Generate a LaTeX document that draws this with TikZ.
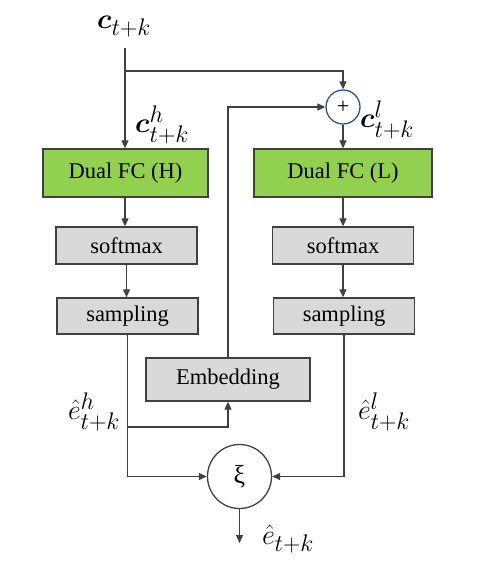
\RequirePackage{fix-cm}
\documentclass[tikz,border=0pt]{standalone}
\usepackage{fontspec}
\setmainfont{Liberation Serif}
\usepackage{amsmath}
\usepackage{bm}
\usetikzlibrary{arrows.meta,calc}
\definecolor{fcgreen}{RGB}{146,208,80}
\definecolor{boxgray}{RGB}{217,217,217}
\definecolor{edgegray}{RGB}{64,64,64}
\definecolor{plusblue}{RGB}{47,85,151}
\newcommand{\lsub}[1]{\mbox{\fontsize{24}{26}\selectfont$#1$}}
\begin{document}
\begin{tikzpicture}[x=1pt,y=-1pt,
  fcbox/.style={draw=edgegray,line width=1.3pt,fill=fcgreen,minimum height=48pt,inner sep=0pt,font=\fontsize{22.5}{26}\selectfont},
  graybox/.style={draw=edgegray,line width=1.3pt,fill=boxgray,minimum width=141pt,inner sep=0pt,font=\fontsize{22.5}{26}\selectfont},
  conn/.style={draw=edgegray,line width=1.2pt,-{Triangle[length=8pt,width=7pt]}},
  lbl/.style={font=\fontsize{28}{32}\selectfont,inner sep=0pt}]
\useasboundingbox (0,0) rectangle (480,565);

\node[lbl] (ctop) at (124,27) {$\bm{c}_{\lsub{t{+}k}}$};
\coordinate (cin) at (125,48);
\coordinate (br) at (125,71);

\node[circle,draw=plusblue,line width=1.3pt,fill=white,minimum size=34pt,inner sep=0pt,font=\fontsize{22}{26}\selectfont] (plus) at (343,107) {+};

\node[fcbox,minimum width=165pt] (dualH) at (125.5,173) {Dual FC (H)};
\node[fcbox,minimum width=178pt] (dualL) at (343,173) {Dual FC (L)};

\node[graybox,minimum height=37pt] (softH) at (126.5,245.5) {softmax};
\node[graybox,minimum height=37pt] (softL) at (343,245.5) {softmax};

\node[graybox,minimum height=36pt] (sampH) at (127.5,316) {sampling};
\node[graybox,minimum height=36pt] (sampL) at (344,316) {sampling};

\node[graybox,minimum width=164pt,minimum height=43pt] (emb) at (228,379.5) {Embedding};

\node[circle,draw=edgegray,line width=1.3pt,fill=white,minimum size=64pt,inner sep=0pt,font=\fontsize{26}{30}\selectfont] (xi) at (239.5,476.5) {ξ};
\coordinate (out) at (239.5,543);
\coordinate (eb) at (127.5,427);

% labels
\node[lbl] (ch) at (162,125) {$\bm{c}^{\lsub{h}}_{\lsub{t{+}k}}$};
\node[lbl] (cl) at (387,120) {$\bm{c}^{\lsub{l}}_{\lsub{t{+}k}}$};
\node[lbl] (eh) at (94,412) {$\hat{e}^{\lsub{h}}_{\lsub{t{+}k}}$};
\node[lbl] (el) at (384,412) {$\hat{e}^{\lsub{l}}_{\lsub{t{+}k}}$};
\node[lbl] (eout) at (288,539) {$\hat{e}_{\lsub{t{+}k}}$};

% connectors
\draw[conn] (cin) -- (cin |- dualH.north);
\draw[conn] (br) -| (plus.north);
\draw[conn] (emb.north) |- (plus.west);
\draw[conn] (plus.south) -- (dualL.north);

\draw[conn] (dualH.south -| cin) -- (cin |- softH.north);
\draw[conn] (softH.south) -- (softH.south |- sampH.north);
\draw[conn] (dualL.south -| plus) -- (plus |- softL.north);
\draw[conn] (softL.south) -- (softL.south |- sampL.north);

\draw[conn] (sampH.south) |- (xi.west);
\draw[conn] (eb) -| (emb.south);
\draw[conn] (sampL.south) |- (xi.east);
\draw[conn] (xi.south) -- (out);
\end{tikzpicture}
\end{document}
